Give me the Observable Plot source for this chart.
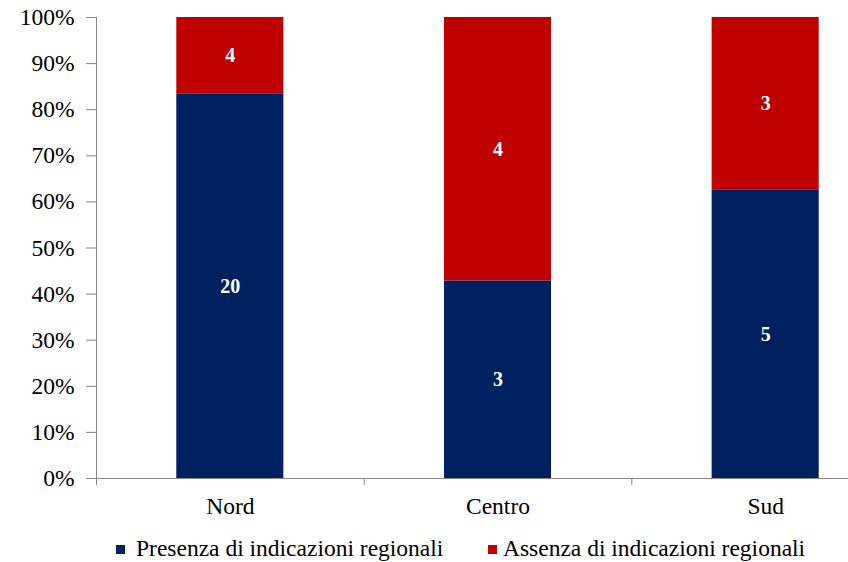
<!DOCTYPE html>
<html>
<head>
<meta charset="utf-8">
<script src="https://cdn.jsdelivr.net/npm/d3@7"></script>
<script src="https://cdn.jsdelivr.net/npm/@observablehq/plot@0.6"></script>
<style>
  html, body { margin: 0; padding: 0; background: #fff; }
  #wrap { position: relative; width: 848px; height: 562px; overflow: hidden; font-family: "Liberation Serif", "Times New Roman", serif; }
  .sq { position: absolute; width: 9px; height: 9px; }
  .lt { position: absolute; font-family: "Liberation Serif", "Times New Roman", serif; font-size: 23.5px; line-height: 24px; color: #000; white-space: nowrap; }
</style>
</head>
<body>
<div id="wrap"></div>
<script>
const categories = ["Nord", "Centro", "Sud"];
const presenza = [20, 3, 5];
const assenza = [4, 4, 3];
const seriesNames = ["Presenza di indicazioni regionali", "Assenza di indicazioni regionali"];
const seriesColors = ["#002060", "#C00000"];
const yTickValues = [0, 0.1, 0.2, 0.3, 0.4, 0.5, 0.6, 0.7, 0.8, 0.9, 1];

// build rows: stacked, normalized shares
const rows = [];
categories.forEach((c, i) => {
  const total = presenza[i] + assenza[i];
  const vals = [presenza[i], assenza[i]];
  let acc = 0;
  vals.forEach((v, s) => {
    const y1 = acc / total;
    acc += v;
    const y2 = acc / total;
    rows.push({cat: c, i, series: seriesNames[s], value: v, y1, y2});
  });
});

const font = '"Liberation Serif", "Times New Roman", serif';
const axisColor = "#868686";

const chart = Plot.plot({
  width: 848,
  height: 525,
  marginTop: 17,
  marginBottom: 47,
  marginLeft: 96,
  marginRight: 0,
  style: {fontFamily: font, fontSize: "23.5px", color: "#000", background: "transparent", overflow: "visible"},
  x: {type: "linear", domain: [0, categories.length], range: [96, 899]},
  y: {domain: [0, 1], range: [478, 17]},
  color: {domain: seriesNames, range: seriesColors},
  marks: [
    Plot.rect(rows, {
      x1: d => d.i + 0.3, x2: d => d.i + 0.7,
      y1: "y1", y2: "y2",
      fill: "series"
    }),
    Plot.text(rows, {
      x: d => d.i + 0.5,
      y: d => (d.y1 + d.y2) / 2,
      text: d => String(d.value),
      fill: "white",
      fontWeight: "bold",
      fontSize: 20,
      fontFamily: font
    }),
    // y axis
    Plot.axisY({
      ticks: yTickValues,
      tickFormat: d3.format(".0%"),
      tickSize: 10,
      tickPadding: 12,
      stroke: axisColor,
      color: "#000",
      fontSize: 23.5,
      fontFamily: font,
      label: null
    }),
    Plot.ruleX([0], {y1: 0, y2: 1, stroke: axisColor}),
    // x axis: boundary ticks and category labels
    Plot.ruleY([0], {stroke: axisColor}),
    Plot.axisX({
      ticks: d3.range(categories.length + 1),
      tickFormat: () => "",
      tickSize: 7,
      stroke: axisColor,
      label: null
    }),
    Plot.axisX({
      ticks: categories.map((c, i) => i + 0.5),
      tickFormat: v => categories[Math.floor(v)],
      tickSize: 0,
      tickPadding: 19,
      fontSize: 23.5,
      fontFamily: font,
      color: "#000",
      label: null
    })
  ]
});

const wrap = document.getElementById("wrap");
chart.style.position = "absolute";
chart.style.left = "0px";
chart.style.top = "0px";
wrap.appendChild(chart);

// legend
const legendPos = [{sq: 116, tx: 136}, {sq: 488, tx: 503}];
seriesNames.forEach((name, s) => {
  const sq = document.createElement("div");
  sq.className = "sq";
  sq.style.left = legendPos[s].sq + "px";
  sq.style.top = "545px";
  sq.style.background = seriesColors[s];
  wrap.appendChild(sq);
  const t = document.createElement("div");
  t.className = "lt";
  t.style.left = legendPos[s].tx + "px";
  t.style.top = "536px";
  t.textContent = name;
  wrap.appendChild(t);
});
</script>
</body>
</html>
